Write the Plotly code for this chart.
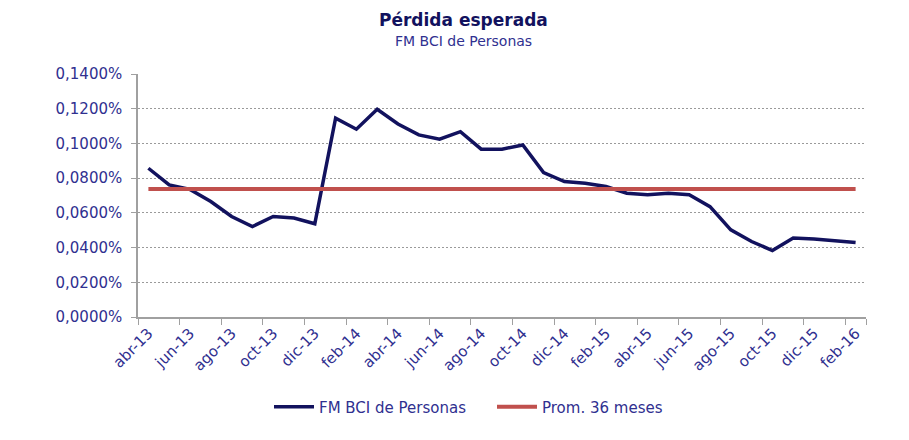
import plotly.graph_objects as go

categories = ["abr-13","may-13","jun-13","jul-13","ago-13","sep-13","oct-13","nov-13","dic-13",
              "ene-14","feb-14","mar-14","abr-14","may-14","jun-14","jul-14","ago-14","sep-14",
              "oct-14","nov-14","dic-14","ene-15","feb-15","mar-15","abr-15","may-15","jun-15",
              "jul-15","ago-15","sep-15","oct-15","nov-15","dic-15","ene-16","feb-16"]
fm_bci = [0.0857,0.0761,0.0735,0.0665,0.0579,0.0521,0.0579,0.0570,0.0537,
          0.1145,0.1082,0.1197,0.1112,0.1049,0.1024,0.1068,0.0967,0.0967,
          0.0991,0.0832,0.0780,0.0771,0.0752,0.0713,0.0704,0.0713,0.0704,
          0.0636,0.0502,0.0435,0.0383,0.0455,0.0449,0.0439,0.0429]
prom_36 = [0.0737] * len(categories)

x_idx = list(range(len(categories)))
label_idx = x_idx[::2]
label_text = [categories[i] for i in label_idx]
boundary_ticks = [i - 0.5 for i in x_idx[::2]] + [len(categories) - 0.5]

txt = "#303090"
navy = "#12125E"
fig = go.Figure()
fig.add_trace(go.Scatter(x=x_idx, y=fm_bci, mode="lines", name="FM BCI de Personas",
                         line=dict(color=navy, width=3.5)))
fig.add_trace(go.Scatter(x=x_idx, y=prom_36, mode="lines", name="Prom. 36 meses",
                         line=dict(color="#C0504D", width=4)))

# page offset of 8px (body margin) is compensated in the sizes below
W, H = 901, 432
L, R, T, B = 130, 43, 66, 123
pw, ph = W - L - R, H - T - B

fig.update_layout(
    width=W, height=H,
    margin=dict(l=L, r=R, t=T, b=B, autoexpand=False),
    paper_bgcolor="white", plot_bgcolor="white",
    separators=",.",
    font=dict(family="DejaVu Sans", size=15, color=txt),
    showlegend=True,
    legend=dict(orientation="h", x=(484 - L) / pw, xanchor="center",
                y=(H - B - 399) / ph, yanchor="middle",
                font=dict(size=15, color=txt), itemwidth=40,
                entrywidth=168, entrywidthmode="pixels"),
)
fig.add_annotation(text="<b>Pérdida esperada</b>", xref="paper", yref="paper",
                   x=(455 - L) / pw, y=(H - B - 12) / ph, xanchor="center", yanchor="middle",
                   showarrow=False,
                   font=dict(size=17, color=navy, family="DejaVu Sans"))
fig.add_annotation(text="FM BCI de Personas", xref="paper", yref="paper",
                   x=(455 - L) / pw, y=(H - B - 33) / ph, xanchor="center", yanchor="middle",
                   showarrow=False,
                   font=dict(size=14, color=txt, family="DejaVu Sans"))

fig.update_xaxes(range=[-0.5, len(categories) - 0.5],
                 tickmode="array", tickvals=label_idx, ticktext=label_text,
                 tickangle=-45, ticks="", showgrid=False, zeroline=False,
                 showline=True, linecolor="#A0A0A0", linewidth=1.5,
                 tickfont=dict(size=15, color=txt), automargin=False,
                 minor=dict(tickmode="array", tickvals=boundary_ticks, ticks="outside",
                            ticklen=6, tickcolor="#A0A0A0", showgrid=False))
fig.update_yaxes(range=[0, 0.14], dtick=0.02, tickformat=".4f", ticksuffix="%",
                 showgrid=True, gridcolor="#9A9A9A", griddash="2px,2px", gridwidth=1,
                 zeroline=False, showline=True, linecolor="#A0A0A0", linewidth=1.5,
                 ticks="outside", ticklen=5, tickcolor="#A0A0A0",
                 ticklabelstandoff=6, automargin=False,
                 tickfont=dict(size=15, color=txt))

fig.write_html("out.html")
